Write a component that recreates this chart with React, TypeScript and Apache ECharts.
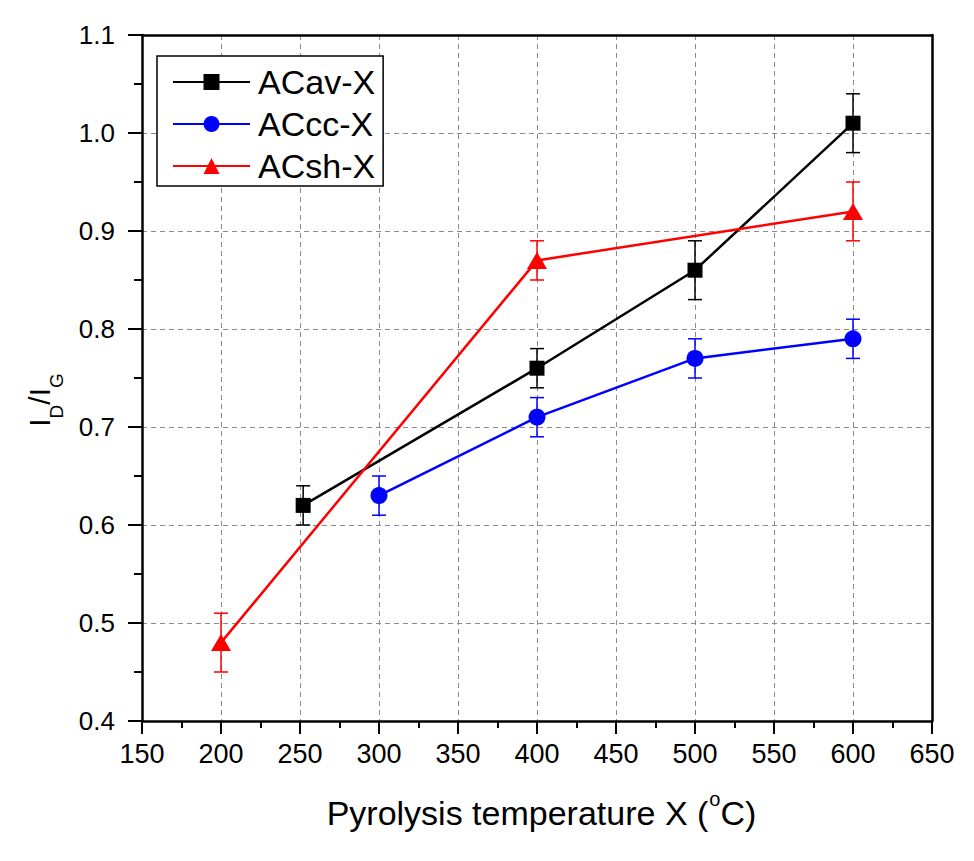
import React, { useEffect, useRef } from "react";
import * as echarts from "echarts";

const FONT = "'Liberation Sans', Arial, Helvetica, sans-serif";

// Pyrolysis temperature (°C) and I_D/I_G ratio with standard deviation
const temperaturesAv = [252, 400, 500, 600];
const ratioAv = [0.62, 0.76, 0.86, 1.01];
const errorAv = [0.02, 0.02, 0.03, 0.03];

const temperaturesCc = [300, 400, 500, 600];
const ratioCc = [0.63, 0.71, 0.77, 0.79];
const errorCc = [0.02, 0.02, 0.02, 0.02];

const temperaturesSh = [200, 400, 600];
const ratioSh = [0.48, 0.87, 0.92];
const errorSh = [0.03, 0.02, 0.03];

const seriesNames = ["ACav-X", "ACcc-X", "ACsh-X"];
const seriesColors = ["#000000", "#0000ff", "#ff0000"];
const seriesSymbols = ["rect", "circle", "triangle"];
const symbolSizes: (number | number[])[] = [15, 17, [20, 17]];

const xRange = { min: 150, max: 650, interval: 50 };
const yRange = { min: 0.4, max: 1.1, interval: 0.1 };

function textWidth(text: string, size: number): number {
  const ctx = document.createElement("canvas").getContext("2d");
  if (!ctx) return text.length * size * 0.5;
  ctx.font = `${size}px ${FONT}`;
  return ctx.measureText(text).width;
}

function errorBars(color: string, xs: number[], ys: number[], errs: number[]) {
  return {
    type: "custom",
    silent: true,
    z: 1,
    data: xs.map((x, i) => [x, ys[i] - errs[i], ys[i] + errs[i]]),
    encode: { x: 0, y: [1, 2] },
    renderItem: (_params: any, api: any) => {
      const x = api.value(0);
      const top = api.coord([x, api.value(2)]);
      const bottom = api.coord([x, api.value(1)]);
      const half = 7;
      const style = { stroke: color, lineWidth: 1.5, fill: null };
      return {
        type: "group",
        children: [
          { type: "line", shape: { x1: top[0], y1: top[1], x2: bottom[0], y2: bottom[1] }, style },
          { type: "line", shape: { x1: top[0] - half, y1: top[1], x2: top[0] + half, y2: top[1] }, style },
          { type: "line", shape: { x1: bottom[0] - half, y1: bottom[1], x2: bottom[0] + half, y2: bottom[1] }, style },
        ],
      };
    },
  };
}

export default function App() {
  const ref = useRef<HTMLDivElement>(null);

  useEffect(() => {
    if (!ref.current) return;
    const chart = echarts.init(ref.current, null, { renderer: "svg" });

    const groups = [
      { xs: temperaturesAv, ys: ratioAv, errs: errorAv },
      { xs: temperaturesCc, ys: ratioCc, errs: errorCc },
      { xs: temperaturesSh, ys: ratioSh, errs: errorSh },
    ];

    const lineSeries = groups.map((g, k) => ({
      type: "line",
      name: seriesNames[k],
      data: g.xs.map((x, i) => [x, g.ys[i]]),
      symbol: seriesSymbols[k],
      symbolSize: symbolSizes[k],
      showAllSymbol: true,
      itemStyle: { color: seriesColors[k] },
      lineStyle: { color: seriesColors[k], width: 2.5 },
      z: 3,
    }));
    const barSeries = groups.map((g, k) => errorBars(seriesColors[k], g.xs, g.ys, g.errs));

    // x-axis title with a superscript degree mark
    const titleSize = 34;
    const supSize = 20;
    const partA = "Pyrolysis temperature X (";
    const partB = "o";
    const partC = "C)";
    const wA = textWidth(partA, titleSize);
    const wB = textWidth(partB, supSize);
    const wC = textWidth(partC, titleSize);
    const xStart = 541 - (wA + wB + wC) / 2;
    const titleMid = 813;

    // y-axis title I_D/I_G, rotated to read upwards
    const mainSize = 30;
    const subSize = 19;
    const wI = textWidth("I", mainSize);
    const wD = textWidth("D", subSize);
    const wSlashI = textWidth("/I", mainSize);
    const wG = textWidth("G", subSize);
    const yTotal = wI + wD + wSlashI + wG;
    const yStart = 400 + yTotal / 2;
    const mainMid = 39;
    const subMid = 56;

    const textStyle = (text: string, x: number, y: number, size: number) => ({
      text,
      x,
      y,
      fill: "#000",
      font: `${size}px ${FONT}`,
      align: "left",
      verticalAlign: "middle",
    });

    const axisLineStyle = { color: "#000", width: 2.5 };
    const gridLineStyle = { color: "#8a8a8a", width: 1, type: [5, 4] };

    chart.setOption({
      animation: false,
      backgroundColor: "#ffffff",
      textStyle: { fontFamily: FONT },
      grid: { left: 142, right: 42, top: 35, bottom: 140 },
      legend: {
        orient: "vertical",
        left: 157,
        top: 56,
        data: seriesNames,
        itemWidth: 77,
        itemHeight: 20,
        itemGap: 8,
        padding: [9, 8, 3, 15],
        borderColor: "#000",
        borderWidth: 1.5,
        backgroundColor: "#ffffff",
        textStyle: { fontSize: 34, color: "#000", fontFamily: FONT, padding: [0, 0, 0, 3] },
      },
      xAxis: [
        {
          type: "value",
          ...xRange,
          axisLine: { show: true, onZero: false, lineStyle: axisLineStyle },
          axisTick: { show: true, length: 13, lineStyle: { color: "#000", width: 2 } },
          minorTick: { show: true, splitNumber: 2, length: 7, lineStyle: { color: "#000", width: 2 } },
          axisLabel: { fontSize: 27, color: "#000", margin: 19, fontFamily: FONT },
          splitLine: { show: true, lineStyle: gridLineStyle },
        },
        {
          type: "value",
          position: "top",
          ...xRange,
          axisLine: { show: true, onZero: false, lineStyle: axisLineStyle },
          axisTick: { show: false },
          axisLabel: { show: false },
          splitLine: { show: false },
        },
      ],
      yAxis: [
        {
          type: "value",
          ...yRange,
          axisLine: { show: true, onZero: false, lineStyle: axisLineStyle },
          axisTick: { show: true, length: 14, lineStyle: { color: "#000", width: 2 } },
          minorTick: { show: true, splitNumber: 2, length: 8, lineStyle: { color: "#000", width: 2 } },
          axisLabel: {
            fontSize: 26,
            color: "#000",
            margin: 27,
            fontFamily: FONT,
            formatter: (v: number) => v.toFixed(1),
          },
          splitLine: { show: true, lineStyle: gridLineStyle },
        },
        {
          type: "value",
          position: "right",
          ...yRange,
          axisLine: { show: true, onZero: false, lineStyle: axisLineStyle },
          axisTick: { show: false },
          axisLabel: { show: false },
          splitLine: { show: false },
        },
      ],
      series: [...barSeries, ...lineSeries],
      graphic: [
        { type: "text", silent: true, style: textStyle(partA, xStart, titleMid, titleSize) },
        { type: "text", silent: true, style: textStyle(partB, xStart + wA + 1, titleMid - 14, supSize) },
        { type: "text", silent: true, style: textStyle(partC, xStart + wA + wB + 1, titleMid, titleSize) },
        {
          type: "group",
          x: 0,
          y: yStart,
          rotation: Math.PI / 2,
          silent: true,
          children: [
            { type: "text", style: textStyle("I", 0, mainMid, mainSize) },
            { type: "text", style: textStyle("D", wI, subMid, subSize) },
            { type: "text", style: textStyle("/I", wI + wD, mainMid, mainSize) },
            { type: "text", style: textStyle("G", wI + wD + wSlashI, subMid, subSize) },
          ],
        },
      ],
    });

    return () => chart.dispose();
  }, []);

  return (
    <div
      ref={ref}
      style={{ position: "fixed", left: 0, top: 0, width: 974, height: 861, background: "#fff" }}
    />
  );
}
